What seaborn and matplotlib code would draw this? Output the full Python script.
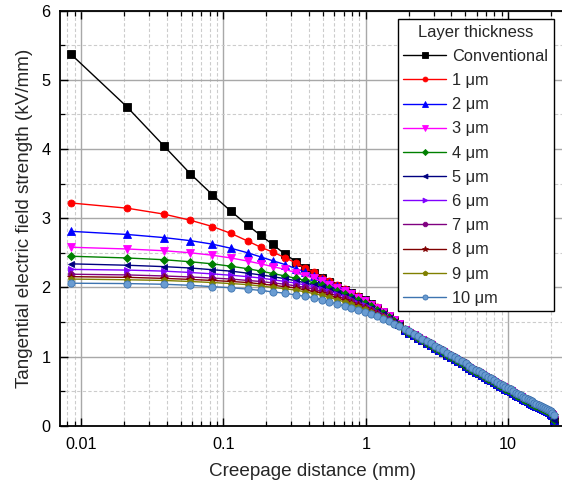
import matplotlib
matplotlib.use("Agg")
import matplotlib.pyplot as plt
import numpy as np
import pandas as pd
import seaborn as sns
from matplotlib.ticker import FixedLocator, LogLocator, MultipleLocator, NullFormatter

# Creepage distance along the insulator surface (mm)
distance_mm = [
    0.0085, 0.021, 0.038, 0.0587, 0.0836, 0.113, 0.148, 0.183, 0.222, 0.271,
    0.324, 0.375, 0.431, 0.492, 0.556, 0.630, 0.710, 0.791, 0.883, 0.983,
    1.083, 1.194, 1.325, 1.45, 1.585, 1.71,
    1.88, 2.02, 2.17, 2.33, 2.50, 2.68, 2.87, 3.07, 3.28, 3.50,
    3.73, 3.97, 4.22, 4.48, 4.75, 5.03, 5.32, 5.62, 5.93, 6.25,
    6.58, 6.92, 7.27, 7.63, 8.00, 8.38, 8.77, 9.17, 9.58, 10.0,
    10.43, 10.87, 11.32, 11.78, 12.25, 12.73, 13.22, 13.72, 14.23, 14.75,
    15.28, 15.82, 16.37, 16.93, 17.50, 18.08, 18.67, 19.27, 19.88, 20.50, 20.9,
]

# Field strength near the electrode (kV/mm), first 26 distances
conventional_head = [5.37, 4.61, 4.05, 3.64, 3.34, 3.10, 2.90, 2.75, 2.62, 2.48,
                     2.37, 2.28, 2.21, 2.14, 2.08, 2.02, 1.965, 1.915, 1.865, 1.815,
                     1.76, 1.705, 1.645, 1.585, 1.525, 1.465]
um1_head = [3.22, 3.145, 3.06, 2.97, 2.88, 2.78, 2.67, 2.58, 2.51, 2.43,
            2.35, 2.28, 2.215, 2.14, 2.085, 2.03, 1.97, 1.92, 1.87, 1.82,
            1.765, 1.71, 1.65, 1.59, 1.53, 1.47]
um2_head = [2.81, 2.765, 2.72, 2.675, 2.625, 2.565, 2.50, 2.44, 2.385, 2.33,
            2.27, 2.22, 2.17, 2.12, 2.07, 2.02, 1.965, 1.915, 1.865, 1.815,
            1.76, 1.705, 1.645, 1.585, 1.525, 1.47]
um3_head = [2.58, 2.555, 2.53, 2.50, 2.465, 2.425, 2.38, 2.34, 2.30, 2.26,
            2.21, 2.17, 2.13, 2.085, 2.04, 1.995, 1.945, 1.90, 1.85, 1.80,
            1.75, 1.695, 1.64, 1.58, 1.525, 1.47]
um4_head = [2.45, 2.425, 2.40, 2.37, 2.34, 2.305, 2.27, 2.235, 2.20, 2.165,
            2.13, 2.10, 2.065, 2.03, 1.99, 1.95, 1.905, 1.86, 1.815, 1.77,
            1.725, 1.675, 1.625, 1.57, 1.515, 1.46]
um5_head = [2.34, 2.32, 2.30, 2.28, 2.255, 2.235, 2.205, 2.18, 2.155, 2.125,
            2.095, 2.065, 2.035, 2.00, 1.965, 1.925, 1.88, 1.84, 1.795, 1.75,
            1.705, 1.66, 1.61, 1.56, 1.505, 1.455]
um6_head = [2.26, 2.25, 2.235, 2.215, 2.195, 2.175, 2.155, 2.135, 2.11, 2.085,
            2.06, 2.035, 2.01, 1.98, 1.945, 1.905, 1.865, 1.825, 1.78, 1.74,
            1.695, 1.65, 1.60, 1.55, 1.50, 1.45]
um7_head = [2.19, 2.18, 2.165, 2.15, 2.135, 2.12, 2.10, 2.085, 2.065, 2.045,
            2.02, 2.00, 1.975, 1.945, 1.915, 1.875, 1.84, 1.80, 1.76, 1.72,
            1.68, 1.635, 1.59, 1.54, 1.49, 1.445]
um8_head = [2.155, 2.145, 2.13, 2.115, 2.10, 2.085, 2.07, 2.05, 2.03, 2.01,
            1.99, 1.965, 1.94, 1.915, 1.885, 1.85, 1.815, 1.78, 1.74, 1.70,
            1.66, 1.62, 1.575, 1.53, 1.485, 1.44]
um9_head = [2.12, 2.11, 2.10, 2.085, 2.07, 2.055, 2.04, 2.02, 2.00, 1.98,
            1.96, 1.935, 1.91, 1.885, 1.855, 1.82, 1.79, 1.755, 1.72, 1.685,
            1.645, 1.605, 1.565, 1.52, 1.475, 1.435]
um10_head = [2.06, 2.055, 2.045, 2.03, 2.01, 1.995, 1.975, 1.955, 1.935, 1.915,
             1.89, 1.87, 1.85, 1.82, 1.79, 1.76, 1.73, 1.705, 1.675, 1.645,
             1.615, 1.58, 1.545, 1.51, 1.475, 1.44]

# Far from the electrode the curves coincide: thin layers / thick layers
tail_low = [1.385, 1.345, 1.31, 1.27, 1.235, 1.20, 1.165, 1.13, 1.095, 1.06,
            1.025, 0.99, 0.96, 0.93, 0.90, 0.87, 0.84, 0.81, 0.78, 0.755,
            0.73, 0.705, 0.68, 0.655, 0.63, 0.605, 0.58, 0.56, 0.535, 0.515,
            0.495, 0.47, 0.45, 0.43, 0.41, 0.39, 0.37, 0.355, 0.335, 0.32,
            0.30, 0.285, 0.27, 0.255, 0.24, 0.225, 0.21, 0.195, 0.175, 0.15, 0.08]
tail_high = [1.40, 1.365, 1.33, 1.295, 1.26, 1.225, 1.19, 1.155, 1.12, 1.09,
             1.055, 1.02, 0.99, 0.96, 0.93, 0.90, 0.87, 0.84, 0.81, 0.785,
             0.76, 0.735, 0.71, 0.685, 0.66, 0.635, 0.61, 0.59, 0.565, 0.545,
             0.525, 0.50, 0.48, 0.46, 0.44, 0.42, 0.40, 0.385, 0.365, 0.35,
             0.33, 0.315, 0.30, 0.285, 0.27, 0.255, 0.24, 0.225, 0.21, 0.19, 0.15]

series_labels = ["Conventional", "1 μm", "2 μm", "3 μm", "4 μm", "5 μm",
                 "6 μm", "7 μm", "8 μm", "9 μm", "10 μm"]
series_heads = [conventional_head, um1_head, um2_head, um3_head, um4_head, um5_head,
                um6_head, um7_head, um8_head, um9_head, um10_head]
series_tails = [tail_low] * 6 + [tail_high] * 5
series_colors = ["#000000", "#ff0000", "#0000ff", "#ff00ff", "#008000", "#000080",
                 "#8000ff", "#800080", "#800000", "#808000", "#3d74b0"]
series_markers = ["s", "o", "^", "v", "D", "<", ">", "8", "*", "p", "o"]
series_msize = [5.2, 5.0, 5.2, 5.2, 4.4, 5.0, 5.0, 5.0, 6.0, 5.0, 5.2]

rows = []
for label, head, tail in zip(series_labels, series_heads, series_tails):
    for d, e in zip(distance_mm, head + tail):
        rows.append({"distance": d, "field": e, "thickness": label})
df = pd.DataFrame(rows)

sns.set_style("ticks")
plt.rcParams["font.family"] = ["Liberation Sans", "DejaVu Sans"]
plt.rcParams["axes.unicode_minus"] = False

fig = plt.figure(figsize=(5.62, 4.87), dpi=100)
ax = fig.add_axes([60 / 562, 1 - 425.7 / 487, 1 - 60 / 562 + 0.004, (425.7 - 10.7) / 487])

for label, color, marker, ms in zip(series_labels, series_colors, series_markers, series_msize):
    sub = df[df["thickness"] == label]
    face = "#6a9cd2" if label == "10 μm" else color
    sns.lineplot(data=sub, x="distance", y="field", ax=ax, color=color, lw=1.0,
                 marker=marker, markersize=ms, markerfacecolor=face,
                 markeredgecolor=color, markeredgewidth=0.6,
                 label=label, sort=True, estimator=None)

ax.set_xscale("log")
ax.set_xlim(0.00711, 24.8)
ax.set_ylim(0, 6)

ax.xaxis.set_major_locator(FixedLocator([0.01, 0.1, 1, 10]))
ax.set_xticks([0.01, 0.1, 1, 10], ["0.01", "0.1", "1", "10"])
ax.xaxis.set_minor_locator(LogLocator(base=10, subs=np.arange(2, 10), numticks=20))
ax.xaxis.set_minor_formatter(NullFormatter())
ax.yaxis.set_major_locator(MultipleLocator(1))
ax.yaxis.set_minor_locator(MultipleLocator(0.5))

ax.grid(which="major", color="#a8a8a8", lw=1.0, ls="-")
ax.grid(which="minor", color="#cccccc", lw=0.8, ls=(0, (3, 2)))
ax.set_axisbelow(True)

ax.tick_params(which="both", direction="in", top=True, right=False,
               labelsize=11.7, colors="black")
ax.tick_params(which="major", length=6, width=1.0)
ax.tick_params(which="minor", length=3.5, width=0.9)
ax.tick_params(axis="x", pad=8)
ax.tick_params(axis="y", pad=7)

for side in ["left", "bottom", "top"]:
    ax.spines[side].set_color("black")
    ax.spines[side].set_linewidth(1.3)
ax.spines["right"].set_visible(False)

ax.set_xlabel("Creepage distance (mm)", fontsize=13.6, labelpad=8)
ax.set_ylabel("Tangential electric field strength (kV/mm)", fontsize=13.6, labelpad=6)

leg = ax.legend(title="Layer thickness", loc="upper right",
                bbox_to_anchor=(0.98, 0.98), fontsize=11.8, title_fontsize=11.9,
                frameon=True, fancybox=False, edgecolor="black", framealpha=1,
                handlelength=2.6, handletextpad=0.4, labelspacing=0.56,
                borderpad=0.35, borderaxespad=0.0, markerscale=0.7)
leg.get_frame().set_linewidth(1.0)

fig.savefig("out.png", dpi=100)
